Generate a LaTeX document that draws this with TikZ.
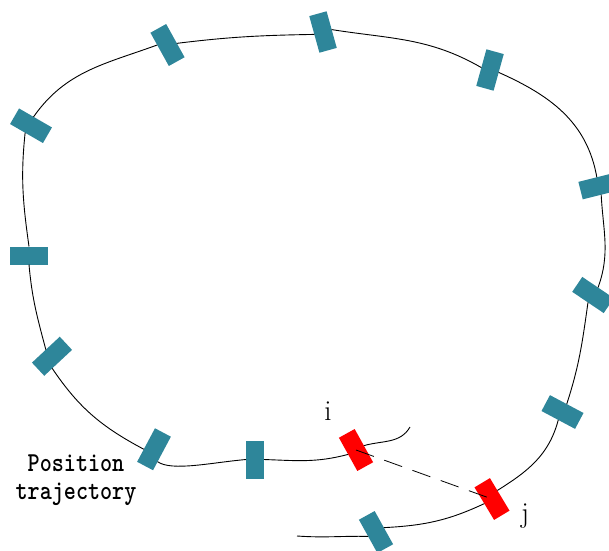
\documentclass[tikz,border=0pt]{standalone}
\definecolor{poseteal}{RGB}{46,134,154}
\begin{document}
\begin{tikzpicture}[x=1pt,y=1pt,
  pose/.style={fill=poseteal, minimum width=18pt, minimum height=38pt, inner sep=0pt, outer sep=0pt},
  keypose/.style={pose, fill=red},
  traj/.style={line width=0.9pt},
  closure/.style={line width=0.8pt, dash pattern=on 19pt off 11pt},
  tag/.style={font=\fontsize{29}{29}\selectfont, anchor=base, inner sep=0pt},
  captiontext/.style={font=\ttfamily\bfseries\fontsize{23}{23.5}\selectfont, align=center, inner sep=0pt, yscale=1.19, transform shape}]
\useasboundingbox (0,0) rectangle (609,550);

% poses along the trajectory
\node[pose, rotate=29]    (p1)  at (376,18)  {};
\node[keypose, rotate=31] (pj)  at (492,51)  {};
\node[pose, rotate=62]    (p2)  at (562.5,138) {};
\node[pose, rotate=56]    (p3)  at (593,255) {};
\node[pose, rotate=104]   (p4)  at (599,364) {};
\node[pose, rotate=-15.5] (p5)  at (490,480) {};
\node[pose, rotate=15.5]  (p6)  at (323,518) {};
\node[pose, rotate=29]    (p7)  at (167.5,505) {};
\node[pose, rotate=60]    (p8)  at (31,424.25) {};
\node[pose, rotate=90]    (p9)  at (29,294.5) {};
\node[pose, rotate=-47]   (p10) at (52,193.75) {};
\node[pose, rotate=-28]   (p11) at (154,100.75) {};
\node[pose, rotate=0]     (p12) at (255,90.5) {};
\node[keypose, rotate=29] (pi)  at (356,100) {};

\coordinate (start) at (297,14);
\coordinate (stop)  at (410,123);

% trajectory segments between consecutive poses
\draw[traj] (start)    to[out=-4,  in=179] (p1.west);
\draw[traj] (p1.east)  to[out=3,   in=205] (pj.west);
\draw[traj] (pj.27)    to[out=32,  in=255] (p2.west);
\draw[traj] (p2.east)  to[out=72,  in=262] (p3.west);
\draw[traj] (p3.east)  to[out=70,  in=273] (p4.west);
\draw[traj] (p4.east)  to[out=100, in=-24] (p5.east);
\draw[traj] (p5.west)  to[out=150, in=-9]  (p6.east);
\draw[traj] (p6.west)  to[out=181, in=7]   (p7.-19);
\draw[traj] (p7.151)   to[out=200, in=55]  (p8.14);
\draw[traj] (p8.170)   to[out=264, in=98]  (p9.east);
\draw[traj] (p9.west)  to[out=275, in=105] (p10.west);
\draw[traj] (p10.-42)  to[out=-56, in=152] (p11.208);
\draw[traj] (p11.-46)  to[out=-35, in=185, out looseness=0.5] (p12.west);
\draw[traj] (p12.east) to[out=-2,  in=195] (pi.west);
\draw[traj] (pi.east)  to[out=16,  in=240] (stop);

% loop closure between i and j
\draw[closure] (pi.center) -- (pj.center);

% labels
\node[tag] (ilabel) at (328,130) {i};
\node[tag] (jlabel) at (525,28) {j};
\node[captiontext] (caption) at (76,70) {Position\\trajectory};
\end{tikzpicture}
\end{document}
